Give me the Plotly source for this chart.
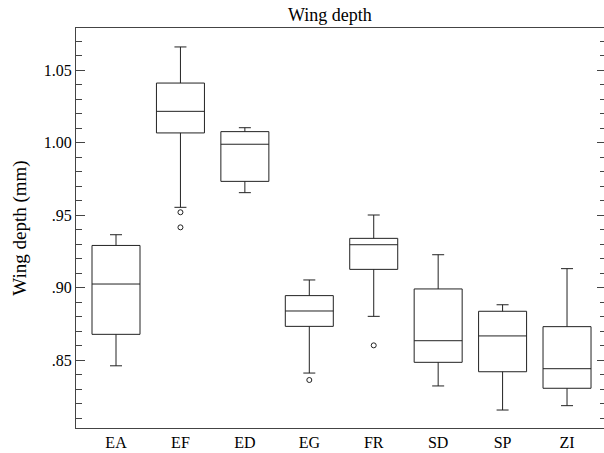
import plotly.graph_objects as go

categories = ["EA", "EF", "ED", "EG", "FR", "SD", "SP", "ZI"]
lower_whisker = [0.846, 0.9553, 0.9654, 0.841, 0.8801, 0.8321, 0.8155, 0.8185]
q1_vals = [0.8677, 1.0066, 0.9732, 0.8732, 0.9125, 0.8484, 0.8419, 0.8305]
median_vals = [0.9024, 1.0215, 0.9988, 0.8838, 0.9295, 0.8633, 0.8666, 0.8440]
q3_vals = [0.9290, 1.0410, 1.0075, 0.8944, 0.9339, 0.8990, 0.8836, 0.8730]
upper_whisker = [0.9364, 1.0659, 1.0102, 0.9052, 0.9500, 0.9226, 0.8881, 0.9130]
outlier_cats = ["EF", "EF", "EG", "FR"]
outlier_vals = [0.9519, 0.9415, 0.8362, 0.8601]

ytick_vals = [0.85, 0.90, 0.95, 1.00, 1.05]
ytick_text = [".85", ".90", ".95", "1.00", "1.05"]

font_family = "Liberation Serif"

fig = go.Figure()
fig.add_trace(go.Box(
    x=categories,
    q1=q1_vals,
    median=median_vals,
    q3=q3_vals,
    lowerfence=lower_whisker,
    upperfence=upper_whisker,
    boxpoints=False,
    width=0.745,
    whiskerwidth=0.25,
    fillcolor="white",
    line=dict(color="#222222", width=1),
    showlegend=False,
    hoverinfo="skip",
))
fig.add_trace(go.Scatter(
    x=outlier_cats,
    y=outlier_vals,
    mode="markers",
    marker=dict(symbol="circle-open", size=5, color="#222222", line=dict(width=1)),
    showlegend=False,
    hoverinfo="skip",
))

fig.update_layout(
    width=606,
    height=453,
    margin=dict(l=76, r=0, t=28, b=25, autoexpand=False),
    paper_bgcolor="white",
    plot_bgcolor="white",
    font=dict(family=font_family, color="black", size=16),
    title=dict(text="Wing depth", x=0.5445, xanchor="center", y=0.968, yanchor="middle",
               font=dict(size=18, family=font_family)),
    xaxis=dict(
        type="category",
        categoryorder="array",
        categoryarray=categories,
        range=[-0.621, 7.605],
        showline=True,
        linecolor="#444444",
        linewidth=1,
        mirror=True,
        ticks="",
        showgrid=False,
        zeroline=False,
        tickfont=dict(size=16, family=font_family),
        automargin=False,
    ),
    yaxis=dict(
        range=[0.8031, 1.07897],
        tickvals=ytick_vals,
        ticktext=ytick_text,
        ticks="inside",
        ticklen=9,
        tickcolor="#444444",
        tickwidth=1,
        minor=dict(dtick=0.01, tick0=0.8, ticks="inside", ticklen=6, tickcolor="#444444", tickwidth=1, showgrid=False),
        showline=True,
        linecolor="#444444",
        linewidth=1,
        mirror="ticks",
        showgrid=False,
        zeroline=False,
        tickfont=dict(size=16, family=font_family),
        ticklabelstandoff=0,
        automargin=False,
        title=dict(text="Wing depth (mm)", font=dict(size=19, family=font_family), standoff=12),
    ),
)

fig.write_html(
    "out.html",
    config={"displayModeBar": False},
    post_script="document.body.style.margin='0';document.body.style.overflow='hidden';",
)
